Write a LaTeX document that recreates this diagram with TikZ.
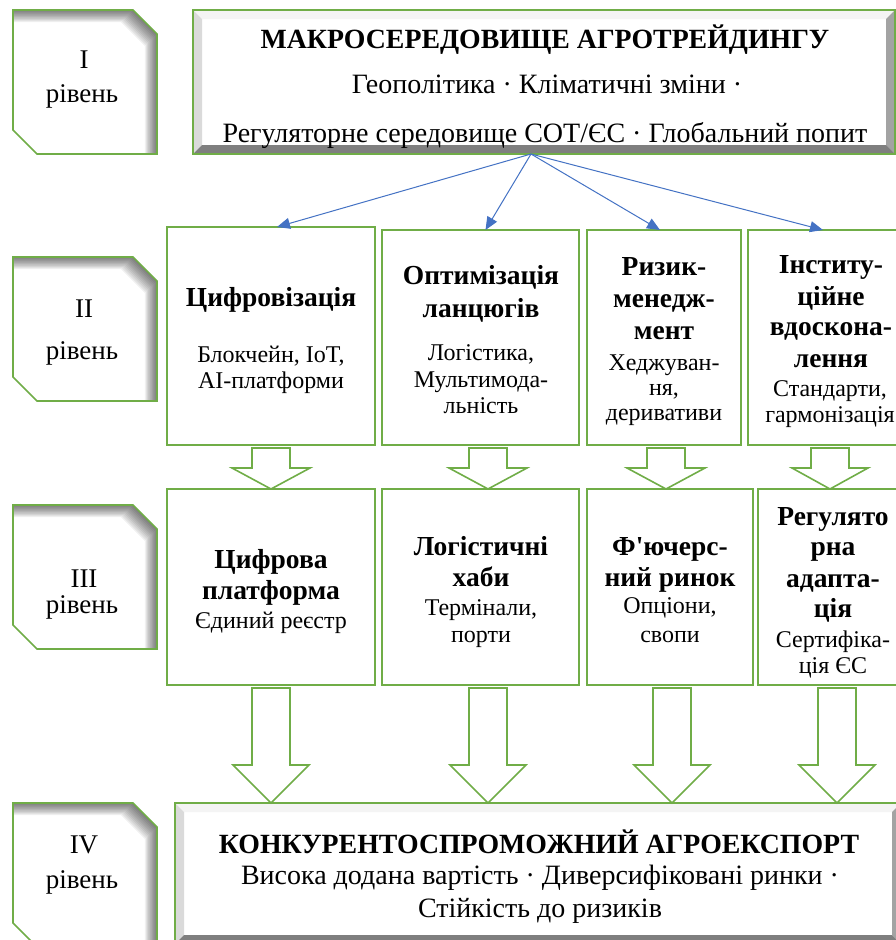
\documentclass[tikz,border=0pt]{standalone}
\usepackage{fontspec}
\setmainfont{Liberation Serif}
\usetikzlibrary{arrows.meta,calc}
\definecolor{grn}{HTML}{70AD47}
\definecolor{blu}{HTML}{4472C4}
\definecolor{bvL}{HTML}{DADADA}
\definecolor{bvR}{HTML}{A3A3A3}
\definecolor{bvB}{HTML}{7F7F7F}
\definecolor{bvT}{HTML}{F4F4F4}
% level box outline: #1 dx, #2 dy, #3 y0
\newcommand\lvlpath[3]{({13+#1},{#3+#2}) -- ({133+#1},{#3+#2}) -- ({157+#1},{#3+24+#2}) -- ({157+#1},{#3+144+#2}) -- ({37+#1},{#3+144+#2}) -- ({13+#1},{#3+120+#2}) -- cycle}
\newcommand\lvlbox[1]{%
  \fill[white] \lvlpath{0}{0}{#1};
  \begin{scope}
    \clip \lvlpath{0}{0}{#1};
    \foreach \s in {1,...,11}{
      \fill[black,opacity=0.06,even odd rule] (-50,-50) rectangle (1000,1000) \lvlpath{-1.1*\s}{1.1*\s}{#1};
    }
  \end{scope}
  \draw[grn,line width=1.6pt,line join=miter] \lvlpath{0}{0}{#1};
}
% bevel faces: x1 y1 x2 y2 w
\newcommand\bevelfaces[5]{%
  \fill[white] (#1,#2) rectangle (#3,#4);
  \fill[bvT] (#1,#2) -- ({#1+#5},{#2+#5}) -- ({#3-#5},{#2+#5}) -- (#3,#2) -- cycle;
  \fill[bvL] (#1,#2) -- ({#1+#5},{#2+#5}) -- ({#1+#5},{#4-#5}) -- (#1,#4) -- cycle;
  \fill[bvR] (#3,#2) -- ({#3-#5},{#2+#5}) -- ({#3-#5},{#4-#5}) -- (#3,#4) -- cycle;
  \fill[bvB] (#1,#4) -- ({#1+#5},{#4-#5}) -- ({#3-#5},{#4-#5}) -- (#3,#4) -- cycle;
}
\newcommand\boxnode[5]{\node[gbox, minimum width={(#4-#2)*1pt}, minimum height={(#5-#3)*1pt}] (#1) at ({(#2+#4)/2},{(#3+#5)/2}) {};}
% block arrow: xc, from node, to node, shaft half, head half, head length
\newcommand\blockarrow[6]{%
  \draw[garr] let \p1=(#2.south), \p2=(#3.north) in
    ({(#1-#4)*1pt},{\y1-3pt}) -- ({(#1-#4)*1pt},{\y2+#6pt}) -- ({(#1-#5)*1pt},{\y2+#6pt}) --
    ({#1*1pt},{\y2}) -- ({(#1+#5)*1pt},{\y2+#6pt}) -- ({(#1+#4)*1pt},{\y2+#6pt}) --
    ({(#1+#4)*1pt},{\y1-3pt}) -- cycle;
}
\begin{document}
\begin{tikzpicture}[x=1pt,y=-1pt,
  gbox/.style={draw=grn, line width=1.6pt, inner sep=0pt, outer sep=0pt, rectangle},
  hd/.style={font=\fontsize{27.5}{30}\selectfont\bfseries, anchor=base, inner sep=0pt},
  bd/.style={font=\fontsize{24}{28}\selectfont, anchor=base, inner sep=0pt},
  lv/.style={font=\fontsize{27}{30}\selectfont, anchor=base, inner sep=0pt},
  ttl/.style={font=\fontsize{27.8}{30}\selectfont\bfseries, anchor=base, inner sep=0pt},
  sub/.style={font=\fontsize{28}{30}\selectfont, anchor=base, inner sep=0pt},
  blarr/.style={draw=blu, line width=1pt, -{Triangle[length=13pt,width=11pt]}},
  garr/.style={draw=grn, line width=1.6pt, fill=white, line join=miter}]
\useasboundingbox (0,0) rectangle (896,940);
\clip (0,0) rectangle (896,940);
\fill[white] (0,0) rectangle (896,940);

% level boxes
\lvlbox{10}
\lvlbox{257}
\lvlbox{505}
\lvlbox{803}
\node[lv] (l1a) at (84,68) {I};
\node[lv] (l1b) at (82,102) {рівень};
\node[lv] (l2a) at (84,317) {II};
\node[lv] (l2b) at (82,359) {рівень};
\node[lv] (l3a) at (84,587) {III};
\node[lv] (l3b) at (82,613) {рівень};
\node[lv] (l4a) at (84,853) {IV};
\node[lv] (l4b) at (82,888) {рівень};

% top box
\bevelfaces{193}{10}{895}{154}{9}
\boxnode{macro}{193}{10}{895}{154}
\node[ttl] (mt) at (545,48) {МАКРОСЕРЕДОВИЩЕ АГРОТРЕЙДИНГУ};
\node[sub] (m2) at (547,93) {Геополітика · Кліматичні зміни ·};
\node[sub] (m3) at (545,142) {Регуляторне середовище СОТ/ЄС · Глобальний попит};

% bottom box
\bevelfaces{175}{803}{901}{944}{9}
\boxnode{export}{175}{803}{901}{944}
\node[ttl] (et) at (539,853) {КОНКУРЕНТОСПРОМОЖНИЙ АГРОЕКСПОРТ};
\node[sub] (e2) at (540,884) {Висока додана вартість · Диверсифіковані ринки ·};
\node[sub] (e3) at (540,917) {Стійкість до ризиків};

% level II boxes
\boxnode{b21}{167}{227}{375}{445}
\boxnode{b22}{382}{230}{579}{445}
\boxnode{b23}{587}{230}{741}{445}
\boxnode{b24}{748}{230}{912}{445}
% level III boxes
\boxnode{b31}{167}{489}{375}{685}
\boxnode{b32}{382}{489}{579}{685}
\boxnode{b33}{587}{489}{753}{685}
\boxnode{b34}{758}{489}{908}{685}

% level II texts
\node[hd] (t21a) at (271,306) {Цифровізація};
\node[bd] (t21b) at (271,362) {Блокчейн, IoT,};
\node[bd] (t21c) at (271,388) {AI-платформи};

\node[hd] (t22a) at (481,284) {Оптимізація};
\node[hd] (t22b) at (481,317) {ланцюгів};
\node[bd] (t22c) at (481,360) {Логістика,};
\node[bd] (t22d) at (481,387) {Мультимода-};
\node[bd] (t22e) at (481,413) {льність};

\node[hd] (t23a) at (664,275) {Ризик-};
\node[hd] (t23b) at (664,307) {менедж-};
\node[hd] (t23c) at (664,339) {мент};
\node[bd] (t23d) at (664,370) {Хеджуван-};
\node[bd] (t23e) at (664,395) {ня,};
\node[bd] (t23f) at (664,420) {деривативи};

\node[hd] (t24a) at (831,273) {Інститу-};
\node[hd] (t24b) at (831,305) {ційне};
\node[hd] (t24c) at (831,335) {вдоскона-};
\node[hd] (t24d) at (831,367) {лення};
\node[bd] (t24e) at (830,396) {Стандарти,};
\node[bd] (t24f) at (830,422) {гармонізація};

% level III texts
\node[hd] (t31a) at (271,568) {Цифрова};
\node[hd] (t31b) at (271,599) {платформа};
\node[bd] (t31c) at (271,628) {Єдиний реєстр};

\node[hd] (t32a) at (481,555) {Логістичні};
\node[hd] (t32b) at (481,586) {хаби};
\node[bd] (t32c) at (481,615) {Термінали,};
\node[bd] (t32d) at (481,642) {порти};

\node[hd] (t33a) at (670,555) {Ф\textquotesingle ючерс-};
\node[hd] (t33b) at (670,586) {ний ринок};
\node[bd] (t33c) at (670,613) {Опціони,};
\node[bd] (t33d) at (670,642) {свопи};

\node[hd] (t34a) at (833,525) {Регулято};
\node[hd] (t34b) at (833,555) {рна};
\node[hd] (t34c) at (833,587) {адапта-};
\node[hd] (t34d) at (833,617) {ція};
\node[bd] (t34e) at (833,647) {Сертифіка-};
\node[bd] (t34f) at (833,673) {ція ЄС};

% block arrows II -> III
\blockarrow{271}{b21}{b31}{19}{39}{21}
\blockarrow{488}{b22}{b32}{19}{39}{21}
\blockarrow{666}{b23}{b33}{19}{39}{21}
\blockarrow{830}{b24}{b34}{19}{38}{21}
% block arrows III -> IV
\blockarrow{271}{b31}{export}{19}{38}{38}
\blockarrow{488}{b32}{export}{19}{38}{38}
\blockarrow{672}{b33}{export}{19}{38}{38}
\blockarrow{837}{b34}{export}{19}{38}{38}

% blue arrows
\coordinate (src) at (531,154);
\draw[blarr] (src) -- ($(b21.north)+(6,0)$);
\draw[blarr] (src) -- ($(b22.north)+(5,0)$);
\draw[blarr] (src) -- ($(b23.north)+(-4,0)$);
\draw[blarr] (src) -- ($(b24.north)+(-7,0)$);
\end{tikzpicture}
\end{document}
